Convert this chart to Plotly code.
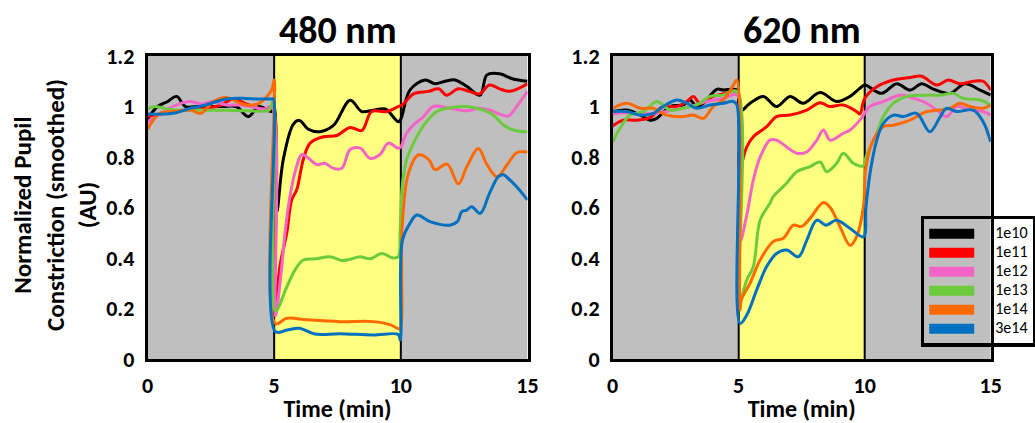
import plotly.graph_objects as go

# ---------------- data ----------------
series_names = ["1e10", "1e11", "1e12", "1e13", "1e14", "3e14"]
series_colors = ["#000000", "#FF0000", "#F464C8", "#6CCB3C", "#FF6A00", "#0070C0"]

panel_titles = ["480 nm", "620 nm"]
x_ticks = [0, 5, 10, 15]
y_ticks = [0, 0.2, 0.4, 0.6, 0.8, 1, 1.2]
y_tick_labels = ["0", "0.2", "0.4", "0.6", "0.8", "1", "1.2"]
periods = [(0, 5, "#BFBFBF"), (5, 10, "#FFFF80"), (10, 15, "#BFBFBF")]
light_edges = [5, 10]

# 480 nm
t480_1e10 = [0, 0.4, 0.8, 1.15, 1.5, 2.0, 2.5, 3.0, 3.5, 3.98, 4.4, 4.9, 5.0, 5.1, 5.36, 5.76, 6.0, 6.35, 6.8, 7.34, 8.0, 8.46, 8.91, 9.38, 9.9, 10.0, 10.36, 10.96, 11.35, 11.75, 12.14, 12.6, 13.13, 13.4, 13.9, 14.4, 15]
y480_1e10 = [0.95, 1.0, 1.02, 1.04, 1.0, 1.0, 1.0, 1.0, 1.0, 0.96, 1.0, 0.98, 1.0, 0.58, 0.79, 0.93, 0.945, 0.91, 0.90, 0.925, 1.025, 0.98, 0.985, 0.99, 0.94, 0.95, 1.065, 1.105, 1.09, 1.1, 1.105, 1.08, 1.045, 1.125, 1.13, 1.11, 1.10]
t480_1e11 = [0, 0.5, 1.0, 1.5, 2.0, 2.34, 2.9, 3.39, 3.9, 4.37, 4.8, 4.97, 5.03, 5.23, 5.5, 5.69, 5.89, 6.15, 6.42, 6.94, 7.47, 8.0, 8.46, 8.85, 9.45, 9.9, 10.1, 10.5, 11.1, 11.5, 11.8, 12.27, 12.7, 13.1, 13.5, 13.9, 14.3, 15]
y480_1e11 = [0.96, 0.97, 0.98, 0.985, 0.99, 0.993, 1.006, 1.03, 1.01, 0.993, 0.986, 1.0, 0.19, 0.37, 0.50, 0.63, 0.67, 0.79, 0.855, 0.88, 0.885, 0.917, 0.905, 0.98, 0.98, 1.0, 1.01, 1.05, 1.06, 1.07, 1.045, 1.07, 1.06, 1.05, 1.085, 1.07, 1.06, 1.09]
t480_1e12 = [0, 0.5, 1.0, 1.68, 2.1, 2.6, 3.1, 3.6, 4.1, 4.6, 4.9, 5.05, 5.23, 5.43, 5.6, 5.85, 6.09, 6.3, 6.68, 7.0, 7.34, 7.67, 8.0, 8.4, 8.78, 9.18, 9.5, 9.9, 10.0, 10.23, 10.5, 10.9, 11.28, 11.94, 12.6, 13.1, 13.5, 13.9, 14.24, 14.57, 15]
y480_1e12 = [0.94, 0.97, 1.0, 1.02, 1.01, 1.02, 1.006, 1.006, 1.0, 0.99, 1.0, 0.17, 0.30, 0.50, 0.63, 0.75, 0.81, 0.80, 0.77, 0.775, 0.755, 0.755, 0.83, 0.835, 0.795, 0.81, 0.855, 0.835, 0.84, 0.895, 0.927, 0.96, 1.0, 0.993, 0.983, 0.993, 0.986, 0.97, 0.962, 1.0, 1.06]
t480_1e13 = [0, 0.3, 1.0, 2.0, 3.0, 4.0, 4.8, 4.97, 5.05, 5.5, 5.82, 6.15, 6.68, 7.2, 7.67, 8.0, 8.39, 8.78, 9.25, 9.7, 9.9, 9.97, 10.05, 10.23, 10.56, 10.96, 11.42, 11.94, 12.6, 13.26, 13.65, 14.05, 14.44, 14.9, 15]
y480_1e13 = [0.99, 1.0, 0.986, 0.986, 0.985, 0.983, 0.986, 1.026, 0.19, 0.286, 0.352, 0.392, 0.397, 0.405, 0.39, 0.395, 0.405, 0.397, 0.418, 0.40, 0.405, 0.50, 0.68, 0.79, 0.867, 0.933, 0.98, 0.995, 1.0, 0.986, 0.966, 0.927, 0.907, 0.90, 0.90]
t480_1e14 = [0, 0.49, 1.0, 1.7, 2.1, 2.6, 3.1, 3.5, 3.9, 4.4, 4.9, 5.0, 5.05, 5.5, 6.3, 7.6, 8.9, 9.6, 9.9, 9.97, 10.05, 10.3, 10.69, 11.1, 11.35, 11.83, 12.27, 12.6, 13.06, 13.4, 13.8, 14.2, 14.57, 15]
y480_1e14 = [0.91, 0.973, 0.98, 0.986, 0.973, 1.02, 1.036, 1.02, 1.006, 1.013, 1.065, 1.105, 0.14, 0.161, 0.155, 0.148, 0.148, 0.135, 0.12, 0.12, 0.52, 0.735, 0.808, 0.79, 0.75, 0.772, 0.693, 0.76, 0.834, 0.77, 0.722, 0.77, 0.817, 0.82]
t480_3e14 = [0, 1.0, 1.7, 2.3, 3.1, 3.9, 4.3, 4.9, 4.97, 5.05, 5.5, 6.0, 6.6, 7.6, 8.9, 9.9, 9.98, 10.06, 10.36, 10.63, 11.15, 11.94, 12.24, 12.4, 12.6, 12.8, 13.13, 13.5, 13.85, 14.05, 14.3, 14.57, 15]
y480_3e14 = [0.97, 0.973, 0.993, 1.006, 1.03, 1.032, 1.03, 1.03, 1.03, 0.108, 0.115, 0.122, 0.099, 0.10, 0.095, 0.097, 0.075, 0.47, 0.537, 0.57, 0.544, 0.53, 0.545, 0.583, 0.59, 0.603, 0.577, 0.656, 0.722, 0.73, 0.709, 0.682, 0.63]

# 620 nm
t620_1e10 = [0, 0.56, 1.1, 1.48, 1.75, 2.27, 2.8, 3.07, 3.33, 3.6, 4.13, 4.4, 4.93, 5.05, 5.45, 5.98, 6.5, 7.04, 7.56, 8.23, 8.89, 9.42, 9.81, 10.0, 10.67, 11.27, 11.8, 12.26, 12.7, 13.38, 13.98, 14.58, 15]
y620_1e10 = [0.98, 0.986, 0.966, 0.946, 0.953, 1.0, 1.006, 1.026, 1.0, 1.013, 1.068, 1.065, 1.065, 0.98, 1.013, 1.04, 1.0, 1.04, 1.013, 1.055, 1.02, 1.04, 1.072, 1.085, 1.052, 1.09, 1.065, 1.09, 1.07, 1.052, 1.09, 1.065, 1.045]
t620_1e11 = [0, 0.42, 0.95, 1.48, 2.0, 2.54, 2.94, 3.2, 3.46, 3.99, 4.5, 4.95, 5.03, 5.32, 5.58, 6.11, 6.5, 7.04, 7.7, 8.23, 8.6, 9.15, 9.68, 9.81, 10.0, 10.48, 11.14, 11.8, 12.26, 12.86, 13.32, 13.78, 14.31, 14.7, 15]
y620_1e11 = [0.923, 0.946, 0.946, 0.956, 1.0, 1.0, 1.02, 1.04, 1.013, 1.04, 1.052, 1.06, 0.755, 0.84, 0.88, 0.92, 0.96, 0.966, 0.986, 1.015, 1.0, 1.006, 0.98, 0.97, 1.032, 1.078, 1.105, 1.115, 1.12, 1.085, 1.105, 1.09, 1.1, 1.1, 1.065]
t620_1e12 = [0, 0.5, 1.0, 1.75, 2.4, 3.07, 3.73, 4.39, 4.93, 5.05, 5.32, 5.58, 5.85, 6.24, 6.5, 6.9, 7.3, 7.7, 8.1, 8.36, 8.63, 9.15, 9.42, 9.81, 10.21, 10.74, 11.4, 11.94, 12.46, 12.86, 13.25, 13.65, 14.18, 14.7, 15]
y620_1e12 = [0.97, 0.975, 0.97, 0.974, 0.986, 1.0, 1.02, 1.032, 1.045, 0.465, 0.57, 0.709, 0.80, 0.867, 0.867, 0.84, 0.815, 0.82, 0.867, 0.907, 0.867, 0.894, 0.907, 0.946, 1.0, 1.02, 1.045, 1.032, 1.013, 0.986, 0.96, 1.0, 0.986, 0.98, 0.966]
t620_1e13 = [0, 0.29, 0.69, 1.22, 1.75, 2.27, 2.8, 3.33, 3.86, 4.39, 4.93, 5.05, 5.32, 5.58, 5.85, 6.24, 6.37, 6.9, 7.3, 7.83, 8.23, 8.49, 8.89, 9.15, 9.55, 9.95, 10.05, 10.48, 10.74, 11.14, 11.67, 12.46, 12.99, 13.52, 13.91, 14.58, 15]
y620_1e13 = [0.86, 0.914, 0.966, 0.98, 1.02, 0.986, 0.993, 1.006, 1.04, 1.045, 1.06, 0.234, 0.313, 0.366, 0.55, 0.617, 0.643, 0.696, 0.742, 0.762, 0.78, 0.742, 0.775, 0.815, 0.775, 0.765, 0.80, 0.894, 0.96, 1.013, 1.04, 1.045, 1.045, 1.052, 1.032, 1.026, 1.006]
t620_1e14 = [0, 0.56, 1.1, 1.6, 2.14, 2.8, 3.2, 3.6, 3.99, 4.39, 4.79, 4.93, 5.05, 5.1, 5.45, 5.85, 6.37, 6.77, 7.17, 7.5, 7.83, 8.36, 8.63, 9.02, 9.42, 9.68, 9.95, 10.05, 10.34, 10.74, 11.14, 11.8, 12.46, 12.99, 13.38, 13.78, 14.18, 14.7, 15]
y620_1e14 = [0.993, 1.013, 0.993, 0.993, 0.966, 0.96, 0.966, 0.953, 1.0, 1.026, 1.085, 1.105, 0.194, 0.234, 0.30, 0.392, 0.465, 0.478, 0.53, 0.525, 0.557, 0.62, 0.60, 0.524, 0.45, 0.485, 0.603, 0.762, 0.867, 0.92, 0.926, 0.946, 0.98, 0.986, 0.993, 1.013, 1.0, 0.993, 1.006]
t620_3e14 = [0, 0.56, 1.1, 1.62, 2.0, 2.54, 2.94, 3.33, 3.86, 4.39, 4.79, 4.93, 5.05, 5.32, 5.71, 6.11, 6.5, 6.9, 7.37, 7.7, 8.1, 8.46, 8.89, 9.42, 9.95, 10.05, 10.21, 10.48, 10.74, 11.14, 11.54, 12.06, 12.59, 13.0, 13.25, 13.65, 14.31, 14.7, 15]
y620_3e14 = [0.98, 0.98, 0.966, 0.973, 1.0, 1.026, 1.013, 0.993, 1.006, 1.013, 1.02, 1.006, 0.141, 0.174, 0.273, 0.366, 0.418, 0.432, 0.405, 0.47, 0.55, 0.53, 0.55, 0.517, 0.484, 0.60, 0.735, 0.867, 0.933, 0.966, 0.96, 0.973, 0.9, 0.96, 0.993, 0.98, 0.986, 0.94, 0.86]

panel_480 = [(t480_1e10, y480_1e10), (t480_1e11, y480_1e11), (t480_1e12, y480_1e12),
             (t480_1e13, y480_1e13), (t480_1e14, y480_1e14), (t480_3e14, y480_3e14)]
panel_620 = [(t620_1e10, y620_1e10), (t620_1e11, y620_1e11), (t620_1e12, y620_1e12),
             (t620_1e13, y620_1e13), (t620_1e14, y620_1e14), (t620_3e14, y620_3e14)]

# ---------------- figure ----------------
W, H = 1035, 423
FONT = "Carlito, Calibri, Lato, sans-serif"
fig = go.Figure()

for axn, panel in (("", panel_480), ("2", panel_620)):
    for (t, y), c in zip(panel, series_colors):
        fig.add_trace(go.Scatter(x=t, y=y, mode="lines", showlegend=False, hoverinfo="skip",
                                 line=dict(color=c, width=3, shape="spline", smoothing=1.0),
                                 xaxis="x" + axn, yaxis="y" + axn))

for n, c in zip(series_names, series_colors):
    fig.add_trace(go.Scatter(x=[None], y=[None], mode="lines",
                             name='<span style="font-size:16px">\u2002\u2002' + n + '</span>',
                             line=dict(color=c, width=10), xaxis="x2", yaxis="y2"))

shapes = []
for xr, yr in (("x", "y"), ("x2", "y2")):
    for x0, x1, col in periods:
        shapes.append(dict(type="rect", xref=xr, yref=yr, x0=x0, x1=x1, y0=0, y1=1.2,
                           fillcolor=col, line=dict(width=0), layer="below"))
    for xe in light_edges:
        shapes.append(dict(type="line", xref=xr, yref=yr, x0=xe, x1=xe, y0=0, y1=1.2,
                           line=dict(color="black", width=2), layer="below"))

left_dom = [147.5 / W, 527.5 / W]
right_dom = [612.7 / W, 990.7 / W]
y_dom = [(H - 359) / H, (H - 56) / H]

xax = dict(range=[0, 15], tickvals=x_ticks, showgrid=False, zeroline=False,
           showline=True, linecolor="black", linewidth=2.5, mirror=True,
           ticks="outside", ticklen=5, tickcolor="rgba(0,0,0,0)",
           tickfont=dict(family=FONT, size=22, color="black", weight="bold"),
           title=dict(text="<b>Time (min)</b>", font=dict(family=FONT, size=24, color="black"), standoff=0))
yax = dict(range=[0, 1.2], tickvals=y_ticks, ticktext=y_tick_labels, showgrid=False, zeroline=False,
           showline=True, linecolor="black", linewidth=2.5, mirror=True,
           ticks="outside", ticklen=6, tickcolor="rgba(0,0,0,0)",
           tickfont=dict(family=FONT, size=22, color="black", weight="bold"))

fig.update_layout(
    width=W, height=H,
    margin=dict(l=0, r=0, t=0, b=0, autoexpand=False),
    paper_bgcolor="white", plot_bgcolor="white",
    xaxis=dict(xax, domain=left_dom, anchor="y"),
    yaxis=dict(yax, domain=y_dom, anchor="x"),
    xaxis2=dict(xax, domain=right_dom, anchor="y2"),
    yaxis2=dict(yax, domain=y_dom, anchor="x2"),
    shapes=shapes,
    showlegend=True,
    legend=dict(x=920.7 / W, y=(H - 215.7) / H, xanchor="left", yanchor="top",
                bgcolor="rgba(0,0,0,0)", bordercolor="black", borderwidth=3.5,
                font=dict(family=FONT, size=12, color="black"), itemwidth=45,
                tracegroupgap=0),
)

annots = []
for dom, title in zip((left_dom, right_dom), panel_titles):
    annots.append(dict(text="<b>" + title + "</b>", x=(dom[0] + dom[1]) / 2, y=(H - 30) / H,
                       xref="paper", yref="paper", showarrow=False, xanchor="center", yanchor="middle",
                       font=dict(family=FONT, size=38, color="black")))
annots.append(dict(text="<b>Normalized Pupil<br>Constriction (smoothed)<br>(AU)</b>",
                   x=55 / W, y=(H - 205) / H, xref="paper", yref="paper", showarrow=False,
                   textangle=-90, xanchor="center", yanchor="middle",
                   font=dict(family=FONT, size=25, color="black")))
fig.update_layout(annotations=annots)

fig.write_html("out.html")
